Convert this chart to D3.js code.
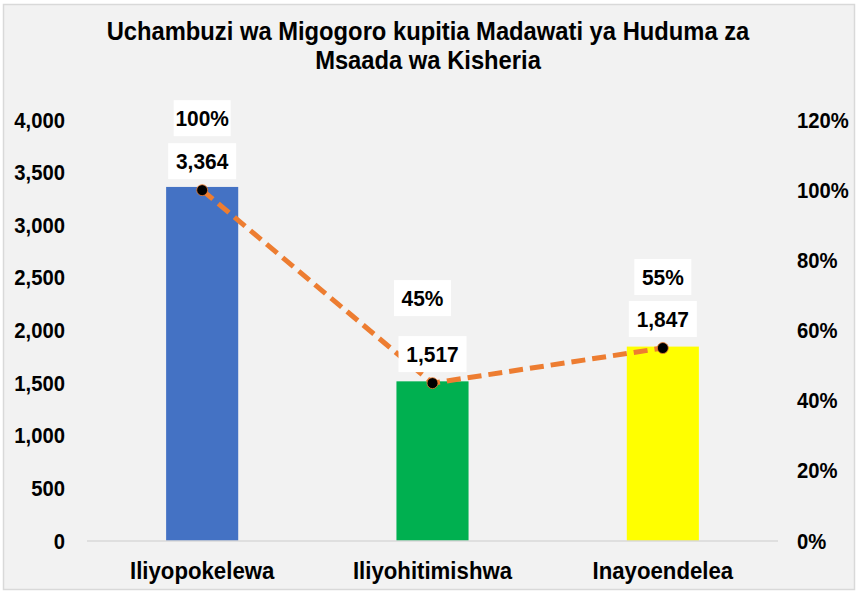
<!DOCTYPE html>
<html>
<head>
<meta charset="utf-8">
<script src="https://cdn.jsdelivr.net/npm/d3@7"></script>
<style>
  body { margin: 0; background: #fff; }
  text { font-family: "Liberation Sans", Arial, sans-serif; font-weight: bold; }
</style>
</head>
<body>
<script>
const categories = ["Iliyopokelewa", "Iliyohitimishwa", "Inayoendelea"];
const counts = [3364, 1517, 1847];
const shares = [1.00, 0.45, 0.55];
const barColors = ["#4472C4", "#00B050", "#FFFF00"];
const leftTicks = [0, 500, 1000, 1500, 2000, 2500, 3000, 3500, 4000];
const rightTicks = [0, 0.2, 0.4, 0.6, 0.8, 1.0, 1.2];

const width = 858;
const height = 595;
const margin = { left: 87, top: 120, right: 80, bottom: 54 };

// percentage label nudges (layout only)
const pctDx = [0, -10, 0];
const pctDy = [-72, -85, -71];

const svg = d3.select("body").append("svg")
    .attr("width", width)
    .attr("height", height);

// squeeze text horizontally to mimic the narrow look of the original
function squeeze(sel, f) {
  sel.each(function() {
    const w = this.getComputedTextLength();
    d3.select(this).attr("textLength", w * f).attr("lengthAdjust", "spacingAndGlyphs");
  });
}

svg.append("rect")
    .attr("x", 3.5).attr("y", 4.5)
    .attr("width", 851).attr("height", 585)
    .attr("fill", "#f2f2f2")
    .attr("stroke", "#d9d9d9")
    .attr("stroke-width", 1.5);

const x = d3.scaleBand()
    .domain(categories)
    .range([margin.left, width - margin.right])
    .paddingInner(0.687)
    .paddingOuter(0.3435);

const y = d3.scaleLinear().domain([0, 4000]).range([541, 120]);
const y2 = d3.scaleLinear().domain([0, 1.2]).range([541, 120]);

// title
const title = svg.append("text")
    .attr("x", 428).attr("y", 40)
    .attr("text-anchor", "middle")
    .attr("font-size", 25);
title.selectAll("tspan")
    .data(["Uchambuzi wa Migogoro kupitia Madawati ya Huduma za", "Msaada wa Kisheria"])
    .join("tspan")
    .attr("x", 428)
    .attr("y", (d, i) => 40 + i * 29)
    .text(d => d);
squeeze(title.selectAll("tspan"), 0.95);

// left axis
const leftAxis = svg.append("g")
    .attr("transform", `translate(${margin.left},0)`)
    .call(d3.axisLeft(y).tickValues(leftTicks).tickSize(0).tickPadding(22).tickFormat(d3.format(",")));
leftAxis.select(".domain").remove();
leftAxis.selectAll("text").attr("font-size", 22).attr("fill", "#000").style("font-family", null);
squeeze(leftAxis.selectAll("text"), 0.92);

// right axis
const rightAxis = svg.append("g")
    .attr("transform", `translate(${width - margin.right},0)`)
    .call(d3.axisRight(y2).tickValues(rightTicks).tickSize(0).tickPadding(19).tickFormat(d3.format(".0%")));
rightAxis.select(".domain").remove();
rightAxis.selectAll("text").attr("font-size", 22).attr("fill", "#000").style("font-family", null);
squeeze(rightAxis.selectAll("text"), 0.92);

// bars
svg.selectAll(".bar")
    .data(categories)
    .join("rect")
    .attr("class", "bar")
    .attr("x", d => x(d))
    .attr("y", (d, i) => y(counts[i]))
    .attr("width", x.bandwidth())
    .attr("height", (d, i) => y(0) - y(counts[i]))
    .attr("fill", (d, i) => barColors[i]);

// baseline
svg.append("line")
    .attr("x1", margin.left).attr("x2", width - margin.right)
    .attr("y1", y(0)).attr("y2", y(0))
    .attr("stroke", "#d9d9d9").attr("stroke-width", 1.5);

// category labels
const cats = svg.selectAll(".cat")
    .data(categories)
    .join("text")
    .attr("class", "cat")
    .attr("x", d => x(d) + x.bandwidth() / 2)
    .attr("y", 579)
    .attr("text-anchor", "middle")
    .attr("font-size", 24)
    .text(d => d);
squeeze(cats, 0.925);

// line
const cx = (d, i) => x(categories[i]) + x.bandwidth() / 2;
const line = d3.line()
    .x((d, i) => cx(d, i))
    .y(d => y2(d));

svg.append("path")
    .datum(shares)
    .attr("d", line)
    .attr("fill", "none")
    .attr("stroke", "#ED7D31")
    .attr("stroke-width", 5)
    .attr("stroke-dasharray", "14,7");

svg.selectAll(".pt")
    .data(shares)
    .join("circle")
    .attr("class", "pt")
    .attr("cx", cx)
    .attr("cy", d => y2(d))
    .attr("r", 5.5)
    .attr("fill", "#000")
    .attr("stroke", "#ED7D31")
    .attr("stroke-width", 0.8);

// data labels
function boxLabel(g, tx, ty, txt, w) {
  g.append("rect")
    .attr("x", tx - w / 2).attr("y", ty - 18)
    .attr("width", w).attr("height", 36)
    .attr("fill", "#fff");
  const t = g.append("text")
    .attr("x", tx).attr("y", ty + 8)
    .attr("text-anchor", "middle")
    .attr("font-size", 22)
    .text(txt);
  squeeze(t, 0.95);
}

const labels = svg.append("g");
counts.forEach((c, i) => {
  const px = cx(c, i);
  const py = y2(shares[i]);
  boxLabel(labels, px, py - 29, d3.format(",")(c), 68);
  boxLabel(labels, px + pctDx[i], py + pctDy[i], d3.format(".0%")(shares[i]), 57);
});
</script>
</body>
</html>
